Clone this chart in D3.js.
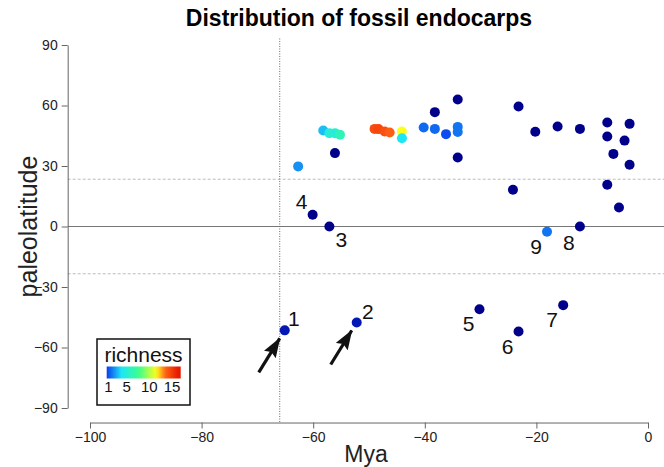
<!DOCTYPE html>
<html>
<head>
<meta charset="utf-8">
<script src="https://cdn.jsdelivr.net/npm/d3@7"></script>
<style>
  body { margin: 0; background: #fff; }
  svg { font-family: "Liberation Sans", Arial, sans-serif; }
</style>
</head>
<body>
<div id="chart"></div>
<script>
// fossil sites: age (Mya), paleolatitude, richness, site number (if labelled)
const mya = [-62.7, -58.2, -57.1, -56.1, -55.2, -56.1, -49.0, -48.3, -47.2, -46.3,
  -44.1, -44.1, -40.2, -38.2, -36.2, -34.1, -34.1, -38.2, -34.1, -34.1,
  -23.2, -20.2, -16.2, -12.2, -7.3, -3.3, -7.3, -4.2, -6.2, -3.3,
  -7.3, -24.2, -5.2, -60.1, -57.1, -18.1, -12.2, -65.1, -52.2, -30.2,
  -23.2, -15.2];
const paleolat = [29.8, 47.6, 46.3, 46.3, 45.5, 36.4, 48.4, 48.3, 47.1, 46.6,
  47.1, 43.8, 49.1, 48.4, 45.8, 49.4, 46.9, 56.7, 63.0, 34.2,
  59.5, 47.0, 49.6, 48.4, 51.6, 50.9, 44.6, 42.6, 36.0, 30.6,
  20.7, 18.2, 9.4, 5.8, 0.0, -2.6, 0.0, -51.5, -47.6, -41.0,
  -52.1, -39.0];
const richness = [3.5, 4.3, 6, 6, 7, 1, 14.6, 14.8, 14.5, 14,
  12, 5, 2.8, 2.8, 2.3, 3, 3, 1, 1, 1,
  1, 1, 1, 1, 1, 1, 1, 1, 1, 1,
  1, 1, 1, 1, 1, 3, 1, 1.4, 1.4, 1,
  1, 1];
const siteNumber = [null, null, null, null, null, null, null, null, null, null,
  null, null, null, null, null, null, null, null, null, null,
  null, null, null, null, null, null, null, null, null, null,
  null, null, null, 4, 3, 9, 8, 1, 2, 5,
  6, 7];
const arrowSites = [1, 2];

const xTicks = [-100, -80, -60, -40, -20, 0];
const yTicks = [-90, -60, -30, 0, 30, 60, 90];
const legendTicks = [1, 5, 10, 15];
const tropics = [23.44, -23.44];
const kpgBoundary = -66;

const width = 664, height = 467;

const svg = d3.select("#chart").append("svg")
  .attr("width", width)
  .attr("height", height);

const x = d3.scaleLinear().domain([-100, 0]).range([90, 648]);
const y = d3.scaleLinear().domain([-90, 90]).range([408, 45]);
// R style plot region: 4% padding around the data range
const xLim = [-104, 4], yLim = [-97.2, 97.2];

const colour = d3.scaleLinear()
  .domain([1, 2, 5, 8.5, 12, 13.8, 16.5])
  .range(["#00008b", "#0a3cf0", "#1ee6f5", "#3cff8c", "#ffff1e", "#ff6414", "#e61400"])
  .clamp(true);

// reference lines
svg.append("line")
  .attr("x1", x(xLim[0])).attr("x2", width)
  .attr("y1", y(0)).attr("y2", y(0))
  .attr("stroke", "#777").attr("stroke-width", 1.2);

svg.selectAll(".tropic")
  .data(tropics)
  .join("line")
  .attr("class", "tropic")
  .attr("x1", x(xLim[0])).attr("x2", width)
  .attr("y1", d => y(d)).attr("y2", d => y(d))
  .attr("stroke", "#bbb").attr("stroke-dasharray", "3,2");

svg.append("line")
  .attr("x1", x(kpgBoundary)).attr("x2", x(kpgBoundary))
  .attr("y1", y(yLim[1]) + 8).attr("y2", y(yLim[0]))
  .attr("stroke", "#666").attr("stroke-dasharray", "1,1.5");

// axes
const xAxis = svg.append("g")
  .attr("transform", `translate(0,${y(yLim[0])})`)
  .call(d3.axisBottom(x).tickValues(xTicks).tickSize(6).tickSizeOuter(0).tickPadding(4));

const yAxis = svg.append("g")
  .attr("transform", `translate(${x(xLim[0])},0)`)
  .call(d3.axisLeft(y).tickValues(yTicks).tickSize(6).tickSizeOuter(0).tickPadding(4));

[xAxis, yAxis].forEach(g => {
  g.select(".domain").attr("stroke", "#666");
  g.selectAll(".tick line").attr("stroke", "#666");
  g.selectAll(".tick text")
    .attr("fill", "#222")
    .style("font-size", "14px")
    .style("font-family", "Liberation Sans, Arial, sans-serif");
});

// titles
svg.append("text")
  .attr("x", 359).attr("y", 26)
  .attr("text-anchor", "middle")
  .style("font-weight", "bold")
  .style("font-size", "23px")
  .text("Distribution of fossil endocarps");

svg.append("text")
  .attr("x", 366).attr("y", 462)
  .attr("text-anchor", "middle")
  .style("font-size", "23px")
  .attr("fill", "#222")
  .text("Mya");

svg.append("text")
  .attr("transform", `translate(37,${y(0)}) rotate(-90)`)
  .attr("text-anchor", "middle")
  .style("font-size", "25px")
  .attr("fill", "#222")
  .text("paleolatitude");

// arrows to sites 1 and 2
const defs = svg.append("defs");
defs.append("marker")
  .attr("id", "head")
  .attr("markerUnits", "userSpaceOnUse")
  .attr("viewBox", "0 0 20 14")
  .attr("refX", 19).attr("refY", 7)
  .attr("markerWidth", 20).attr("markerHeight", 14)
  .attr("orient", "auto")
  .append("path")
  .attr("d", "M0,0 L20,7 L0,14 L3,7 Z")
  .attr("fill", "#111");

const sites = mya.map((m, i) => ({
  mya: m, lat: paleolat[i], richness: richness[i], num: siteNumber[i]
}));

svg.selectAll(".arrow")
  .data(sites.filter(d => arrowSites.includes(d.num)))
  .join("line")
  .attr("class", "arrow")
  .attr("x1", d => x(d.mya) - 26).attr("y1", d => y(d.lat) + 42)
  .attr("x2", d => x(d.mya) - 5).attr("y2", d => y(d.lat) + 8)
  .attr("stroke", "#111").attr("stroke-width", 3.2)
  .attr("marker-end", "url(#head)");

// points
svg.selectAll(".site")
  .data(sites)
  .join("circle")
  .attr("class", "site")
  .attr("cx", d => x(d.mya))
  .attr("cy", d => y(d.lat))
  .attr("r", 5)
  .attr("fill", d => colour(d.richness));

// site numbers
const labelOffset = {
  1: [9, -12], 2: [11, -11], 3: [12, 13], 4: [-11, -13], 5: [-11, 14],
  6: [-11, 15], 7: [-11, 14], 8: [-11, 16], 9: [-11, 15]
};

svg.selectAll(".num")
  .data(sites.filter(d => d.num !== null))
  .join("text")
  .attr("class", "num")
  .attr("x", d => x(d.mya) + labelOffset[d.num][0])
  .attr("y", d => y(d.lat) + labelOffset[d.num][1])
  .attr("text-anchor", "middle")
  .attr("dy", "0.35em")
  .style("font-size", "21px")
  .attr("fill", "#111")
  .text(d => d.num);

// richness legend
const legend = svg.append("g");
legend.append("rect")
  .attr("x", 97).attr("y", 339)
  .attr("width", 93).attr("height", 66)
  .attr("fill", "#fff").attr("stroke", "#111").attr("stroke-width", 1.5);

legend.append("text")
  .attr("x", 143.5).attr("y", 362)
  .attr("text-anchor", "middle")
  .style("font-size", "21px")
  .attr("fill", "#111")
  .text("richness");

const lx = d3.scaleLinear().domain([0.6, 16.9]).range([106.7, 180.7]);

const grad = defs.append("linearGradient").attr("id", "rich");
d3.range(0, 1.0001, 0.05).forEach(t => {
  const r = 2 + t * 14.9;
  grad.append("stop")
    .attr("offset", t)
    .attr("stop-color", colour(r));
});

legend.append("rect")
  .attr("x", lx.range()[0]).attr("y", 366.5)
  .attr("width", lx.range()[1] - lx.range()[0]).attr("height", 12)
  .attr("fill", "url(#rich)");

legend.selectAll(".lt")
  .data(legendTicks)
  .join("text")
  .attr("class", "lt")
  .attr("x", d => lx(d))
  .attr("y", 392)
  .attr("text-anchor", "middle")
  .style("font-size", "15px")
  .attr("fill", "#111")
  .text(d => d);
</script>
</body>
</html>
